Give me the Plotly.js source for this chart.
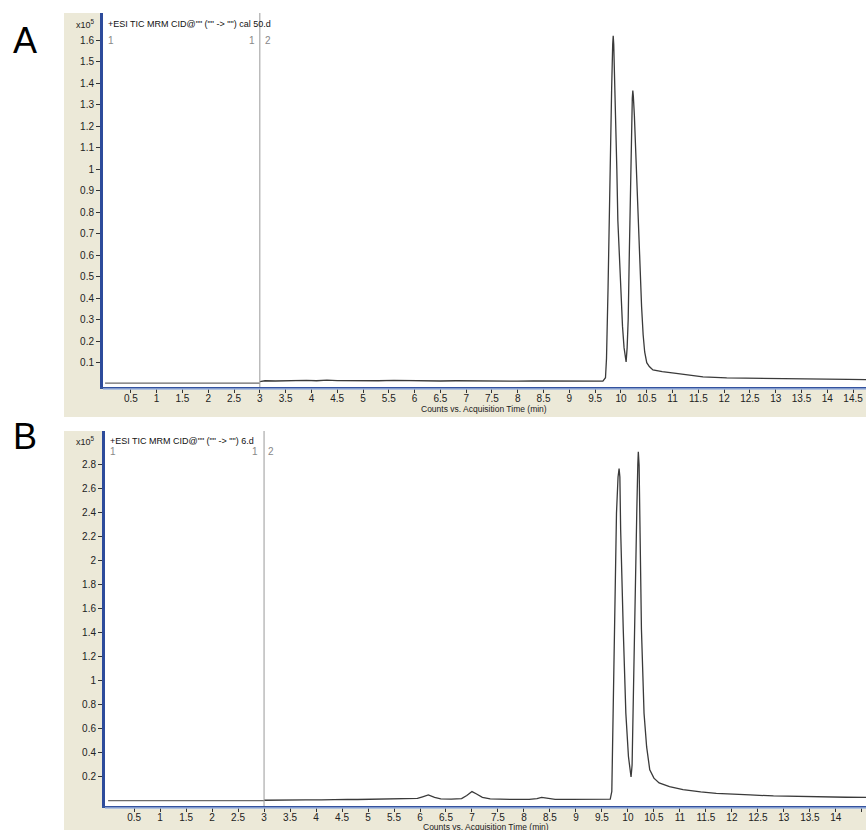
<!DOCTYPE html>
<html>
<head>
<meta charset="utf-8">
<script src="https://cdn.plot.ly/plotly-3.0.1.min.js"></script>
<style>html,body{margin:0;padding:0;background:#fff;}#chart{width:866px;height:830px;}</style>
</head>
<body>
<div id="chart"></div>
<script>
// ---------- DATA (intensity in units of 10^5 counts, time in min) ----------
const titleA = '+ESI TIC MRM CID@"" ("" -> "") cal 50.d';
const titleB = '+ESI TIC MRM CID@"" ("" -> "") 6.d';
const xTitle = 'Counts vs. Acquisition Time (min)';

const seg1TimeA = [0, 3.0];
const seg1ValA  = [0.005, 0.005];
const seg2TimeA = [3.0, 3.1, 3.3, 3.5, 3.7, 3.9, 4.1, 4.3, 4.5, 4.7, 5.0, 5.3, 5.6, 5.9, 6.2, 6.5, 6.8, 7.1, 7.4, 7.7, 8.0, 8.3, 8.6, 8.9, 9.2, 9.5, 9.65,
  9.7, 9.72, 9.75, 9.78, 9.8, 9.82, 9.84, 9.85, 9.86, 9.88, 9.9, 9.92, 9.94, 9.97, 10.01, 10.03, 10.06, 10.08, 10.1,
  10.12, 10.14, 10.16, 10.18, 10.2, 10.22, 10.23, 10.24, 10.26, 10.29, 10.33, 10.36, 10.4, 10.43, 10.46, 10.5, 10.55, 10.62,
  10.8, 11.07, 11.3, 11.59, 12.05, 12.5, 13.15, 13.6, 14.0, 14.4, 14.75];
const seg2ValA  = [0.012, 0.016, 0.015, 0.017, 0.016, 0.018, 0.016, 0.019, 0.017, 0.016, 0.017, 0.016, 0.018, 0.016, 0.017, 0.015, 0.016, 0.015, 0.013, 0.015, 0.014, 0.015, 0.015, 0.013, 0.015, 0.014, 0.014,
  0.03, 0.12, 0.45, 0.92, 1.15, 1.38, 1.58, 1.62, 1.58, 1.42, 1.23, 1.0, 0.76, 0.57, 0.38, 0.27, 0.17, 0.12, 0.104,
  0.17, 0.30, 0.58, 0.90, 1.15, 1.33, 1.365, 1.34, 1.25, 1.05, 0.76, 0.55, 0.36, 0.23, 0.15, 0.10, 0.082, 0.066,
  0.058, 0.05, 0.042, 0.034, 0.029, 0.027, 0.025, 0.024, 0.022, 0.022, 0.021];

const seg1TimeB = [0, 3.0];
const seg1ValB  = [0.003, 0.003];
const seg2TimeB = [3.0, 3.2, 3.5, 3.8, 4.1, 4.4, 4.6, 4.8, 5.0, 5.2, 5.4, 5.6, 5.8, 5.95, 6.05, 6.16, 6.28, 6.4, 6.6, 6.8, 6.9, 7.0, 7.08, 7.2, 7.35,
  7.5, 7.8, 8.1, 8.25, 8.34, 8.45, 8.6, 8.9, 9.2, 9.5, 9.66,
  9.69, 9.72, 9.75, 9.78, 9.81, 9.83, 9.845, 9.86, 9.91, 9.96, 10.01, 10.04, 10.06, 10.08,
  10.1, 10.13, 10.17, 10.19, 10.2, 10.215, 10.23, 10.26, 10.31, 10.36, 10.42, 10.5, 10.6, 10.8,
  11.06, 11.4, 11.7, 12.0, 12.35, 12.8, 13.3, 13.8, 14.2, 14.6];
const seg2ValB  = [0.006, 0.008, 0.008, 0.009, 0.009, 0.013, 0.014, 0.012, 0.013, 0.014, 0.013, 0.015, 0.02, 0.022, 0.035, 0.05, 0.03, 0.018, 0.016, 0.02, 0.045, 0.078, 0.06, 0.03, 0.017,
  0.014, 0.013, 0.014, 0.02, 0.03, 0.022, 0.014, 0.013, 0.014, 0.014, 0.015,
  0.08, 0.8, 1.70, 2.40, 2.70, 2.77, 2.70, 2.26, 1.43, 0.73, 0.37, 0.25, 0.2, 0.3,
  0.85, 1.70, 2.40, 2.80, 2.91, 2.80, 2.26, 1.43, 0.73, 0.45, 0.26, 0.19, 0.15, 0.12,
  0.095, 0.075, 0.064, 0.056, 0.05, 0.042, 0.036, 0.033, 0.031, 0.03];

const xTickVals = [0.5, 1, 1.5, 2, 2.5, 3, 3.5, 4, 4.5, 5, 5.5, 6, 6.5, 7, 7.5, 8, 8.5, 9, 9.5, 10, 10.5, 11, 11.5, 12, 12.5, 13, 13.5, 14, 14.5];
const xTickText = ['0.5','1','1.5','2','2.5','3','3.5','4','4.5','5','5.5','6','6.5','7','7.5','8','8.5','9','9.5','10','10.5','11','11.5','12','12.5','13','13.5','14','14.5'];
const yTickValsA = [0.1, 0.2, 0.3, 0.4, 0.5, 0.6, 0.7, 0.8, 0.9, 1.0, 1.1, 1.2, 1.3, 1.4, 1.5, 1.6];
const yTickTextA = ['0.1','0.2','0.3','0.4','0.5','0.6','0.7','0.8','0.9','1','1.1','1.2','1.3','1.4','1.5','1.6'];
const yTickValsB = [0.2, 0.4, 0.6, 0.8, 1.0, 1.2, 1.4, 1.6, 1.8, 2.0, 2.2, 2.4, 2.6, 2.8];
const yTickTextB = ['0.2','0.4','0.6','0.8','1','1.2','1.4','1.6','1.8','2','2.2','2.4','2.6','2.8'];
const segmentBoundary = 3.0;

// ---------- LAYOUT ----------
const W = 866, H = 830;
const px = v => v / W;
const py = v => 1 - v / H;
const FONT = 'Liberation Sans Narrow, Liberation Sans, Arial, sans-serif';
const BEIGE = '#ECE9D8';
const TRACE = '#3a3a3a';

const traces = [
  {x: seg1TimeA, y: seg1ValA, xaxis: 'x', yaxis: 'y', mode: 'lines', line: {color: '#6a6a6a', width: 1.3}, hoverinfo: 'skip'},
  {x: seg2TimeA, y: seg2ValA, xaxis: 'x', yaxis: 'y', mode: 'lines', line: {color: TRACE, width: 1.3}},
  {x: seg1TimeB, y: seg1ValB, xaxis: 'x2', yaxis: 'y2', mode: 'lines', line: {color: '#6a6a6a', width: 1.3}, hoverinfo: 'skip'},
  {x: seg2TimeB, y: seg2ValB, xaxis: 'x2', yaxis: 'y2', mode: 'lines', line: {color: TRACE, width: 1.3}}
];

function xAxis(domain, range, anchor) {
  return {domain: domain, range: range, anchor: anchor, tickmode: 'array', tickvals: xTickVals, ticktext: xTickText,
    ticks: 'outside', ticklen: 4, tickcolor: '#333', tickwidth: 1, showgrid: false, zeroline: false, ticklabelstandoff: -3,
    showline: true, linecolor: '#34539F', linewidth: 2, tickfont: {family: FONT, size: 10, color: '#222'}, fixedrange: true};
}
function yAxis(domain, range, anchor, tv, tt) {
  return {domain: domain, range: range, anchor: anchor, tickmode: 'array', tickvals: tv, ticktext: tt,
    ticks: 'outside', ticklen: 4, tickcolor: '#333', tickwidth: 1, showgrid: false, zeroline: false,
    showline: true, linecolor: '#2D4B9B', linewidth: 3, tickfont: {family: FONT, size: 10, color: '#222'}, fixedrange: true};
}

const shapes = [
  // beige panels
  {type: 'rect', xref: 'paper', yref: 'paper', x0: px(64), x1: 1, y0: py(417), y1: py(13), fillcolor: BEIGE, line: {width: 0}, layer: 'below'},
  {type: 'rect', xref: 'paper', yref: 'paper', x0: px(64), x1: 1, y0: 0, y1: py(431), fillcolor: BEIGE, line: {width: 0}, layer: 'below'},
  // white plot areas
  {type: 'rect', xref: 'x domain', yref: 'y domain', x0: 0, x1: 1, y0: 0, y1: 1, fillcolor: '#fff', line: {width: 0}, layer: 'below'},
  {type: 'rect', xref: 'x2 domain', yref: 'y2 domain', x0: 0, x1: 1, y0: 0, y1: 1, fillcolor: '#fff', line: {width: 0}, layer: 'below'},
  // segment separators
  {type: 'line', xref: 'x', yref: 'y domain', x0: segmentBoundary, x1: segmentBoundary, y0: 0, y1: 1, line: {color: '#9a9a9a', width: 1}},
  {type: 'line', xref: 'x2', yref: 'y2 domain', x0: segmentBoundary, x1: segmentBoundary, y0: 0, y1: 1, line: {color: '#9a9a9a', width: 1}},
  // light blue under-lines of x axes
  {type: 'line', xref: 'x domain', yref: 'paper', x0: 0, x1: 1, y0: py(389), y1: py(389), line: {color: '#9FB4DE', width: 1.5}},
  {type: 'line', xref: 'x2 domain', yref: 'paper', x0: 0, x1: 1, y0: py(808), y1: py(808), line: {color: '#9FB4DE', width: 1.5}}
];

function ann(text, x, y, opts) {
  return Object.assign({text: text, xref: 'paper', yref: 'paper', x: x, y: y, showarrow: false,
    xanchor: 'left', yanchor: 'middle', font: {family: FONT, size: 9, color: '#111'}}, opts || {});
}

const annotations = [
  ann('A', px(25), py(41), {xanchor: 'center', font: {family: 'Liberation Sans, Arial, sans-serif', size: 36, color: '#000'}}),
  ann('B', px(25), py(436), {xanchor: 'center', font: {family: 'Liberation Sans, Arial, sans-serif', size: 36, color: '#000'}}),
  ann('x10<sup>5</sup>', px(74), py(24), {font: {family: FONT, size: 9, color: '#222'}}),
  ann('x10<sup>5</sup>', px(74), py(441), {font: {family: FONT, size: 9, color: '#222'}}),
  ann(titleA, px(106), py(24), {font: {family: FONT, size: 9, color: '#111'}}),
  ann(titleB, px(108), py(441), {font: {family: FONT, size: 9, color: '#111'}}),
  ann(xTitle, px(484), py(409), {xanchor: 'center', font: {family: FONT, size: 8.5, color: '#222'}}),
  ann(xTitle, px(486), py(827), {xanchor: 'center', font: {family: FONT, size: 8.5, color: '#222'}}),
  // segment numbers
  ann('1', px(106), py(40), {font: {family: FONT, size: 10, color: '#888'}}),
  ann('1', px(257), py(40), {xanchor: 'right', font: {family: FONT, size: 10, color: '#888'}}),
  ann('2', px(263), py(40), {font: {family: FONT, size: 10, color: '#888'}}),
  ann('1', px(108), py(451), {font: {family: FONT, size: 10, color: '#888'}}),
  ann('1', px(260), py(451), {xanchor: 'right', font: {family: FONT, size: 10, color: '#888'}}),
  ann('2', px(266), py(451), {font: {family: FONT, size: 10, color: '#888'}})
];

const layout = {
  width: W, height: H, margin: {l: 0, r: 0, t: 0, b: 0},
  paper_bgcolor: '#fff', plot_bgcolor: 'rgba(0,0,0,0)', showlegend: false,
  xaxis: xAxis([px(103), 1], [-0.04, 14.75], 'y'),
  yaxis: yAxis([py(387), py(13)], [-0.013, 1.726], 'x', yTickValsA, yTickTextA),
  xaxis2: xAxis([px(105), 1], [-0.06, 14.58], 'y2'),
  yaxis2: yAxis([py(806), py(431)], [-0.042, 3.083], 'x2', yTickValsB, yTickTextB),
  shapes: shapes, annotations: annotations
};

Plotly.newPlot('chart', traces, layout, {displayModeBar: false, staticPlot: true});
</script>
</body>
</html>
